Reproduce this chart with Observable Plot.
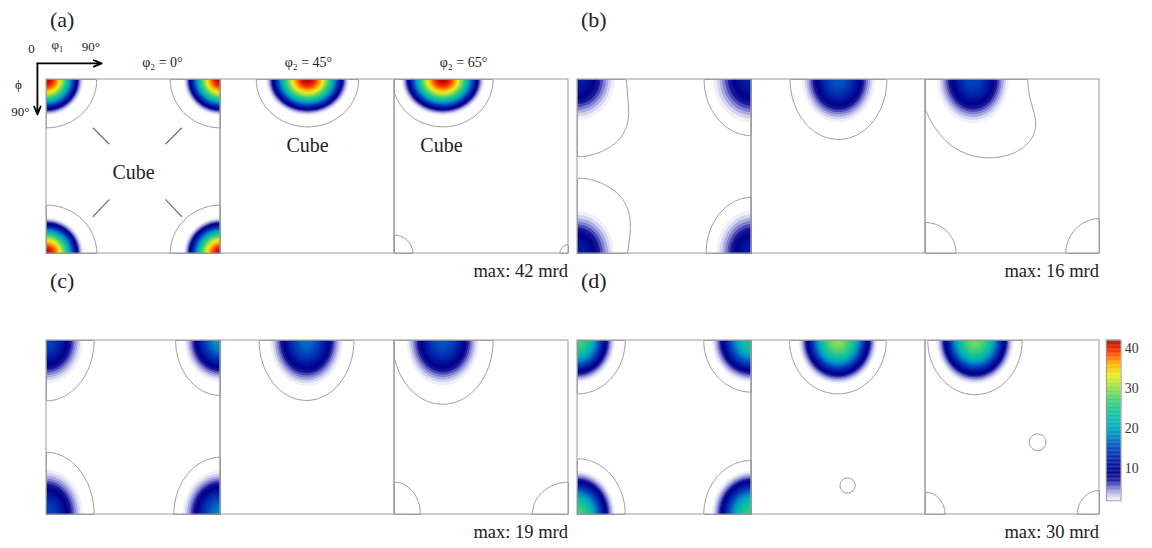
<!DOCTYPE html>
<html><head><meta charset="utf-8">
<script src="https://cdn.jsdelivr.net/npm/d3@7"></script>
<script src="https://cdn.jsdelivr.net/npm/@observablehq/plot@0.6"></script>
<style>
body{margin:0;background:#fff;}
#fig{position:relative;width:1152px;height:548px;overflow:hidden;font-family:"Liberation Serif","Times New Roman",serif;color:#222;}
.lbl{position:absolute;white-space:nowrap;line-height:1;}
.plotbox{position:absolute;}
</style></head><body><div id="fig"></div>
<script>
// ---------------- data ----------------
const panelLabels = ["(a)", "(b)", "(c)", "(d)"];
const maxValues = [42, 16, 19, 30];
const sectionTitles = ["φ₂ = 0°", "φ₂ = 45°", "φ₂ = 65°"];
const sectionTitleAt = [60, 45.5, 35.7];           // φ1 of the title inside each section
const background = [0.9, 0.9, 0.9, 0.9];          // ODF background level (mrd)
// peaks: [section, φ1 (°), Φ (°), peak (mrd), φ1-radius of coloured area, Φ-radius, φ1-radius of 1 mrd line, Φ-radius]
const peaksA = [
  [0, 0, 0, 42, 19, 18.5, 26, 25], [0, 90, 0, 42, 19, 18.5, 26, 25],
  [0, 0, 90, 42, 19, 18.5, 26, 25], [0, 90, 90, 42, 19, 18.5, 26, 25],
  [1, 45, 0, 42, 21.5, 18.5, 26.5, 24.5],
  [2, 25, 0, 42, 21.5, 18.5, 26, 24.5], [2, 0, 90, 1.25, 0, 0, 9.5, 9.5], [2, 90, 90, 1.1, 0, 0, 4.5, 4.5]
];
const peaksB = [
  [0, 0, 0, 12, 19, 20, 24.5, 24], [0, 0, 22, 1.3, 0, 0, 24, 17], [0, 90, 0, 12, 19.7, 22, 24.5, 29],
  [0, 0, 90, 12, 18.7, 21, 24.5, 24], [0, 0, 70, 1.3, 0, 0, 24.5, 18], [0, 90, 90, 12, 18, 22, 23.5, 29],
  [1, 45, 0, 16, 18.7, 22, 25, 31],
  [2, 24.5, 0, 15, 18.3, 22, 28, 30], [2, 35, 25, 1.2, 0, 0, 20, 14],
  [2, 0, 90, 1.2, 0, 0, 15.8, 16], [2, 90, 90, 1.2, 0, 0, 17.4, 18]
];
const peaksC = [
  [0, 0, 0, 15, 18.7, 22, 24.6, 31], [0, 90, 0, 19, 18.7, 21, 23.2, 28.4],
  [0, 0, 90, 15, 18.7, 23, 24.6, 32], [0, 90, 90, 18, 19.5, 22.5, 24.1, 29.6],
  [1, 44.5, 0, 17, 18.7, 23.3, 24.5, 31],
  [2, 25, 0, 16, 18.7, 23, 26, 33], [2, 0, 90, 1.2, 0, 0, 13.4, 16.7], [2, 90, 90, 1.2, 0, 0, 18.7, 16.7]
];
const peaksD = [
  [0, 0, 0, 27, 19.4, 21.6, 24.7, 27.6], [0, 90, 0, 24, 20.5, 21.6, 24.7, 26.7],
  [0, 0, 90, 27, 19.4, 22.5, 24.7, 28.8], [0, 90, 90, 26, 20.5, 22.7, 24.7, 28],
  [1, 44.7, 0, 30, 20.3, 22.4, 25, 27.6], [1, 49.7, 75, 1.15, 0, 0, 3.9, 3.9],
  [2, 25.6, 0, 29, 20, 22.4, 24.4, 28], [2, 58, 52.6, 1.15, 0, 0, 4.3, 4.3],
  [2, 0, 90, 1.2, 0, 0, 10.1, 11.5], [2, 90, 90, 1.2, 0, 0, 11.5, 12.4]
];
const colorStops = [2, 3, 4, 5, 6, 7, 9, 12, 15, 18, 21, 24, 27, 30, 33, 36, 39, 42];
const colorRange = ["#f0f0fa", "#d4d4f0", "#acace2", "#8080d0", "#4a4ab8", "#1c1c9c", "#00008a", "#0020a8",
  "#0048bc", "#0088c4", "#00b4b4", "#18c496", "#48d07a", "#98e048", "#e8ee20", "#ffb000", "#ff3800", "#b00000"];
const colorbarTicks = [10, 20, 30, 40];
const lineLevels = [1];
const fillLevels = [2, 3, 4, 5, 6, 7].concat(d3.range(7.5, 42.01, 0.5));
// annotations of panel (a) in (φ1, Φ) degrees of the panel
const cubeLabels = [[45, 48], [135, 34], [204.3, 34]];
const cubePointers = [[24, 25, 32.5, 33.5], [70, 25, 61.5, 33.5], [32.5, 62, 24, 71], [61.5, 62, 70, 71]];
const axisArrows = [[-4.7, -8.3, 28.5, -8.3], [-4.7, -8.3, -4.7, 18]];
const axisTexts = [["0", -7.8, -16], ["φ₁", 5.7, -17.8], ["90°", 23, -16.8], ["ϕ", -14.5, 2.6], ["90°", -13.5, 16.6]];

// ---------------- layout ----------------
const panelPos = [[46, 79], [577, 79], [46, 340], [577, 340]];
const SEC = 174, N = 150;
const haloLevel = 0.5, coreGamma = 1.5;
const serif = '"Liberation Serif","Times New Roman",serif';
const colorScale = {type: "linear", domain: colorStops, range: colorRange, clamp: true};
const fig = document.getElementById("fig");

function sectionGrid(peaks, bg, sec) {
  const ps = peaks.filter(p => p[0] === sec).map(([, cx, cy, P, fx, fy, lx, ly]) => {
    const big = fx > 0;
    const H = big ? haloLevel : P - bg;
    const A = big ? P - bg - H : 0;
    // core profile A·cos(π/2·ρ)^γ reaching 1 mrd at the coloured-area radius
    const sF = big ? (2 / Math.PI) * Math.acos(Math.pow(1 / A, 1 / coreGamma)) : 1;
    return {cx, cy, A, Rx: fx / sF, Ry: fy / sF, H, lx, ly, kh: Math.log(H / (1 - bg))};
  });
  const vals = new Array(N * N);
  for (let j = 0; j < N; j++) {
    const y = (j + 0.5) * 90 / N;
    for (let i = 0; i < N; i++) {
      const x = (i + 0.5) * 90 / N;
      let v = bg;
      for (const p of ps) {
        const dx = x - p.cx, dy = y - p.cy;
        const qh = (dx / p.lx) ** 2 + (dy / p.ly) ** 2;
        v += p.H * Math.exp(-p.kh * qh);
        if (p.A > 0) {
          const rho = Math.sqrt((dx / p.Rx) ** 2 + (dy / p.Ry) ** 2);
          if (rho < 1) v += p.A * Math.pow(Math.cos(Math.PI / 2 * rho), coreGamma);
        }
      }
      vals[j * N + i] = v;
    }
  }
  return vals;
}

const allPeaks = [peaksA, peaksB, peaksC, peaksD];
const mL = 46, mT = 45, mR = 2, mB = 2;
allPeaks.forEach((peaks, idx) => {
  const marks = [];
  for (let s = 0; s < 3; s++) {
    const vals = sectionGrid(peaks, background[idx], s);
    const ext = {x1: s * 90, x2: s * 90 + 90, y1: 0, y2: 90, width: N, height: N};
    marks.push(Plot.contour(vals, {...ext, fill: Plot.identity, thresholds: fillLevels}));
    marks.push(Plot.contour(vals, {...ext, value: Plot.identity, thresholds: lineLevels,
      fill: "none", stroke: "#8a8a8a", strokeWidth: 0.9}));
  }
  marks.push(Plot.rect([0, 1, 2], {x1: s => s * 90, x2: s => s * 90 + 90, y1: () => 0, y2: () => 90,
    fill: "none", stroke: "#9a9a9a", strokeWidth: 1}));
  if (idx === 0) {
    marks.push(Plot.text(sectionTitles, {x: (d, i) => i * 90 + sectionTitleAt[i], y: () => -9,
      text: d => d, fontFamily: serif, fontSize: 14, fill: "#222"}));
    marks.push(Plot.link(cubePointers, {x1: d => d[0], y1: d => d[1], x2: d => d[2], y2: d => d[3],
      stroke: "#7a7a7a", strokeWidth: 1.4}));
    marks.push(Plot.text(cubeLabels, {x: d => d[0], y: d => d[1], text: () => "Cube",
      fontFamily: serif, fontSize: 20, fill: "#222"}));
    marks.push(Plot.arrow(axisArrows, {x1: d => d[0], y1: d => d[1], x2: d => d[2], y2: d => d[3],
      stroke: "#000", strokeWidth: 1.8, headLength: 7, headAngle: 45}));
    marks.push(Plot.text(axisTexts, {x: d => d[1], y: d => d[2], text: d => d[0],
      fontFamily: serif, fontSize: 13, fill: "#222"}));
  }
  const chart = Plot.plot({
    width: SEC * 3 + mL + mR, height: SEC + mT + mB,
    marginLeft: mL, marginTop: mT, marginRight: mR, marginBottom: mB,
    x: {domain: [0, 270], axis: null}, y: {domain: [0, 90], reverse: true, axis: null},
    color: colorScale,
    style: {background: "transparent", overflow: "visible", fontFamily: serif},
    marks
  });
  const box = document.createElement("div");
  box.className = "plotbox";
  box.style.left = (panelPos[idx][0] - mL) + "px";
  box.style.top = (panelPos[idx][1] - mT) + "px";
  box.appendChild(chart);
  fig.appendChild(box);

  const lab = document.createElement("div");
  lab.className = "lbl";
  lab.textContent = panelLabels[idx];
  lab.style.left = (panelPos[idx][0] + 4) + "px";
  lab.style.top = (panelPos[idx][1] - 70) + "px";
  lab.style.fontSize = "22px";
  fig.appendChild(lab);

  const mx = document.createElement("div");
  mx.className = "lbl";
  mx.textContent = "max: " + maxValues[idx] + " mrd";
  mx.style.right = (1152 - (panelPos[idx][0] + SEC * 3)) + "px";
  mx.style.top = (panelPos[idx][1] + SEC + 9) + "px";
  mx.style.fontSize = "18.5px";
  fig.appendChild(mx);
});

// colour bar
const cbStep = 0.2;
const cbSteps = d3.range(2, 42, cbStep);
const cb = Plot.plot({
  width: 16 + 1 + 34, height: SEC + 2, marginLeft: 1, marginRight: 34, marginTop: 1, marginBottom: 1,
  y: {domain: [2, 42], ticks: colorbarTicks, tickSize: 0, tickPadding: 4, axis: "right", label: null},
  color: colorScale,
  style: {background: "transparent", fontFamily: serif, fontSize: "15px", color: "#333", overflow: "visible"},
  marks: [
    Plot.rect(cbSteps, {y1: d => d, y2: d => d + cbStep * 1.3, fill: d => d}),
    Plot.frame({stroke: "#9a9a9a"})
  ]
});
const cbBox = document.createElement("div");
cbBox.className = "plotbox";
cbBox.style.left = "1105px";
cbBox.style.top = "339px";
cbBox.appendChild(cb);
fig.appendChild(cbBox);
</script></body></html>
